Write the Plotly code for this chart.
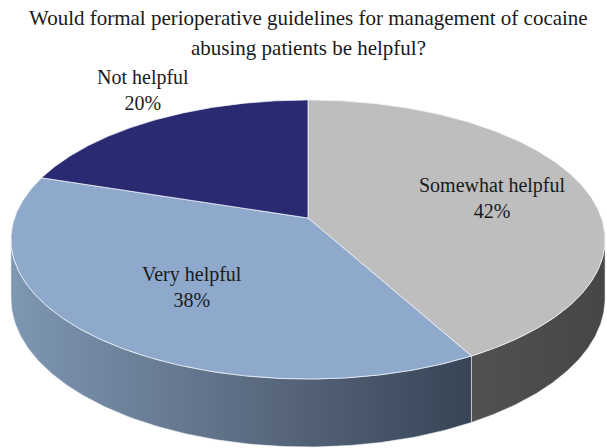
import numpy as np
import plotly.graph_objects as go

# ---- data ----
categories = ["Somewhat helpful", "Very helpful", "Not helpful"]
values = [42, 38, 20]
title_lines = ["Would formal perioperative guidelines for management of cocaine",
               "abusing patients be helpful?"]

# ---- style ----
top_colors = ["#BEBEBE", "#8EA9CC", "#2A2A72"]
side_scales = [
    [[0, "#515151"], [1, "#464646"]],
    [[0, "#7E97B3"], [0.5, "#5D6D83"], [1, "#374456"]],
    [[0, "#1E1E52"], [1, "#1E1E52"]],
]
label_pos = [(492, 198), (192, 287), (143, 90)]
FONT = "Liberation Serif"

CX, CY = 308.0, 218.0      # pie centre on the page
A, B, K = 293.5, 136.2, 0.154  # horizontal / vertical radius, perspective
DEPTH = 57.5


def proj(theta_deg, r=1.0):
    t = np.radians(theta_deg)
    u = r * np.sin(t)
    v = r * np.cos(t)
    w = 1 + K * v
    return CX + A * u / w, CY - B * v / w, w


total = float(sum(values))
angles = np.concatenate([[0.0], np.cumsum(values) / total * 360.0])
th_right = 90 + np.degrees(np.arcsin(K))
th_left = 270 - np.degrees(np.arcsin(K))

fig = go.Figure()

# side walls
for i in range(len(values)):
    a = max(angles[i], th_right)
    b = min(angles[i + 1], th_left)
    if a >= b:
        continue
    ts = np.linspace(a, b, 160)
    x, y, w = proj(ts)
    yb = y + DEPTH / w
    px = np.concatenate([x, x[::-1], x[:1]])
    py = np.concatenate([y, yb[::-1], y[:1]])
    fig.add_trace(go.Scatter(
        x=px, y=py, mode="lines", fill="toself",
        fillgradient=dict(type="horizontal", colorscale=side_scales[i]),
        line=dict(color="rgba(235,240,248,0.7)", width=0.8),
        hoverinfo="skip", showlegend=False))

# top faces
for i in range(len(values)):
    ts = np.linspace(angles[i], angles[i + 1], 200)
    x, y, _ = proj(ts)
    px = np.concatenate([[CX], x, [CX]])
    py = np.concatenate([[CY], y, [CY]])
    fig.add_trace(go.Scatter(
        x=px, y=py, mode="lines", fill="toself", fillcolor=top_colors[i],
        line=dict(color="rgba(240,244,250,0.85)", width=0.9),
        hoverinfo="skip", showlegend=False))

annotations = []
for i, cat in enumerate(categories):
    lx, ly = label_pos[i]
    annotations.append(dict(
        x=lx, y=ly, xref="x", yref="y", showarrow=False,
        text=f"{cat}<br>{values[i]}%", align="center",
        font=dict(family=FONT, size=20, color="#1a1a1a")))

for j, (line, yy) in enumerate(zip(title_lines, [18, 48])):
    annotations.append(dict(
        x=308, y=yy, xref="x", yref="y", showarrow=False, text=line,
        font=dict(family=FONT, size=21, color="#1a1a1a")))

fig.update_layout(
    width=607, height=448,
    margin=dict(l=0, r=0, t=0, b=0),
    paper_bgcolor="white", plot_bgcolor="white",
    xaxis=dict(range=[0, 607], visible=False, fixedrange=True),
    yaxis=dict(range=[448, 0], visible=False, fixedrange=True),
    annotations=annotations,
    showlegend=False,
    hovermode=False,
)

fig.write_html("out.html",
               config={"displayModeBar": False, "staticPlot": True},
               post_script="document.body.style.margin='0';document.body.style.overflow='hidden';")
